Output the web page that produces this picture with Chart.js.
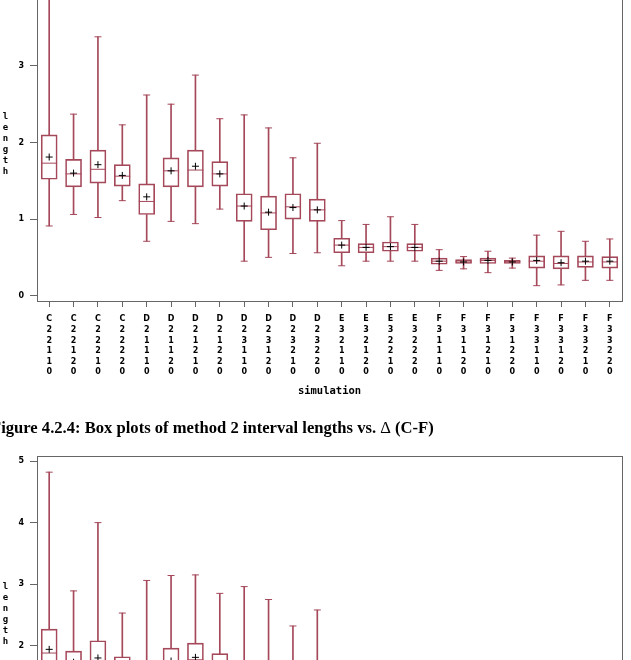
<!DOCTYPE html>
<html>
<head>
<meta charset="utf-8">
<script src="https://cdn.jsdelivr.net/npm/chart.js@4.4.0/dist/chart.umd.min.js"></script>
<style>
  html, body { margin: 0; padding: 0; width: 631px; height: 660px; overflow: hidden; background: #fff; }
  .wrap { position: absolute; left: 0; width: 631px; }
  #wrapTop { top: -23px; height: 443px; }
  #wrapBottom { top: 446px; height: 446px; }
  .ylab {
    position: absolute; left: 0; width: 11px; text-align: center;
    font: bold 9px "DejaVu Sans Mono", monospace; line-height: 11px;
  }
  #caption {
    position: absolute; left: -9px; top: 419px; white-space: nowrap;
    font: bold 16.6px "Liberation Serif", "Times New Roman", serif; line-height: 17px;
  }
  #caption .delta { font-weight: normal; }
</style>
</head>
<body>
<div class="wrap" id="wrapTop"><canvas id="chartTop"></canvas></div>
<div class="ylab" style="top:111px">l<br>e<br>n<br>g<br>t<br>h</div>
<div id="caption">Figure 4.2.4: Box plots of method 2 interval lengths vs. <span class="delta">&Delta;</span> (C-F)</div>
<div class="wrap" id="wrapBottom"><canvas id="chartBottom"></canvas></div>
<div class="ylab" style="top:581px">l<br>e<br>n<br>g<br>t<br>h</div>
<script>
// simulation settings along the x axis
const simulations = [
  "C22110", "C22120", "C22210", "C22220",
  "D21110", "D21120", "D21210", "D21220",
  "D23110", "D23120", "D23210", "D23220",
  "E32110", "E32120", "E32210", "E32220",
  "F31110", "F31120", "F31210", "F31220",
  "F33110", "F33120", "F33210", "F33220"
];

// upper figure: interval lengths (method 1)
const m1Min    = [0.91, 1.06, 1.02, 1.24, 0.71, 0.97, 0.94, 1.13, 0.45, 0.50, 0.55, 0.56, 0.39, 0.45, 0.45, 0.45, 0.33, 0.35, 0.30, 0.36, 0.13, 0.14, 0.20, 0.20];
const m1Q1     = [1.52, 1.42, 1.47, 1.43, 1.06, 1.42, 1.42, 1.43, 0.97, 0.86, 1.00, 0.97, 0.56, 0.56, 0.58, 0.58, 0.41, 0.42, 0.42, 0.42, 0.36, 0.35, 0.37, 0.36];
const m1Median = [1.73, 1.59, 1.65, 1.56, 1.23, 1.63, 1.64, 1.59, 1.17, 1.08, 1.16, 1.12, 0.66, 0.63, 0.64, 0.63, 0.45, 0.44, 0.46, 0.44, 0.45, 0.42, 0.44, 0.44];
const m1Mean   = [1.81, 1.60, 1.71, 1.57, 1.29, 1.63, 1.69, 1.59, 1.17, 1.09, 1.15, 1.12, 0.66, 0.63, 0.64, 0.63, 0.45, 0.44, 0.46, 0.44, 0.46, 0.43, 0.45, 0.45];
const m1Q3     = [2.10, 1.78, 1.90, 1.71, 1.46, 1.80, 1.90, 1.75, 1.33, 1.30, 1.33, 1.26, 0.75, 0.68, 0.70, 0.68, 0.49, 0.47, 0.49, 0.46, 0.52, 0.52, 0.52, 0.51];
const m1Max    = [3.97, 2.37, 3.38, 2.23, 2.62, 2.50, 2.88, 2.31, 2.36, 2.19, 1.80, 1.99, 0.98, 0.93, 1.03, 0.93, 0.60, 0.51, 0.58, 0.49, 0.79, 0.84, 0.71, 0.74];

// lower figure: interval lengths (method 2)
const m2Min    = [1.02, 1.10, 1.06, 1.28, 0.78, 1.02, 0.98, 1.18, 0.50, 0.55, 0.60, 0.60, 0.42, 0.48, 0.48, 0.48, 0.35, 0.37, 0.32, 0.38, 0.15, 0.16, 0.22, 0.22];
const m2Q1     = [1.62, 1.50, 1.52, 1.48, 1.12, 1.50, 1.50, 1.48, 1.02, 0.92, 1.05, 1.02, 0.60, 0.60, 0.62, 0.62, 0.44, 0.45, 0.45, 0.45, 0.38, 0.37, 0.39, 0.38];
const m2Median = [1.88, 1.68, 1.76, 1.62, 1.32, 1.72, 1.77, 1.66, 1.24, 1.14, 1.22, 1.18, 0.70, 0.67, 0.68, 0.67, 0.48, 0.47, 0.49, 0.47, 0.48, 0.45, 0.47, 0.47];
const m2Mean   = [1.94, 1.73, 1.80, 1.66, 1.38, 1.75, 1.81, 1.68, 1.26, 1.17, 1.22, 1.19, 0.71, 0.68, 0.69, 0.68, 0.48, 0.47, 0.49, 0.47, 0.49, 0.46, 0.48, 0.48];
const m2Q3     = [2.27, 1.91, 2.08, 1.82, 1.58, 1.96, 2.04, 1.87, 1.45, 1.40, 1.42, 1.36, 0.80, 0.73, 0.75, 0.73, 0.53, 0.50, 0.52, 0.49, 0.56, 0.56, 0.56, 0.55];
const m2Max    = [4.82, 2.89, 4.00, 2.53, 3.06, 3.14, 3.15, 2.85, 2.96, 2.75, 2.32, 2.58, 1.05, 1.00, 1.10, 1.00, 0.65, 0.55, 0.62, 0.53, 0.85, 0.90, 0.76, 0.80];

// y tick labels
const m1Ticks = [0, 1, 2, 3, 4];
const m2Ticks = [0, 1, 2, 3, 4, 5];

const boxColor = "#a5485a";
const axisColor = "#666666";
const tickFont = { family: "DejaVu Sans", size: 8, weight: "bold" };

// build one box plot chart out of floating bars and point markers
function makeBoxChart(canvasId, stats, yMax, yTicks) {
  const { min, q1, median, mean, q3, max } = stats;
  const ctx = document.getElementById(canvasId).getContext("2d");

  return new Chart(ctx, {
    type: "bar",
    data: {
      labels: simulations.map((s) => s.split("")),
      datasets: [
        {
          // mean marker
          type: "line",
          data: mean,
          showLine: false,
          pointStyle: "cross",
          pointRadius: 3.5,
          borderColor: "#000",
          borderWidth: 1,
          order: 0,
        },
        {
          // median line
          type: "line",
          data: median,
          showLine: false,
          pointStyle: "line",
          pointRadius: 8,
          borderColor: boxColor,
          borderWidth: 1,
          order: 1,
        },
        {
          // whisker caps
          type: "line",
          data: max,
          showLine: false,
          pointStyle: "line",
          pointRadius: 3.5,
          borderColor: boxColor,
          borderWidth: 1,
          order: 2,
        },
        {
          type: "line",
          data: min,
          showLine: false,
          pointStyle: "line",
          pointRadius: 3.5,
          borderColor: boxColor,
          borderWidth: 1,
          order: 2,
        },
        {
          // box from Q1 to Q3
          data: q1.map((v, i) => [v, q3[i]]),
          grouped: false,
          barThickness: 16,
          backgroundColor: "rgba(255,255,255,0)",
          borderColor: boxColor,
          borderWidth: 1,
          borderSkipped: false,
          order: 3,
        },
        {
          // whisker stems
          data: max.map((v, i) => [q3[i], v]),
          grouped: false,
          barThickness: 1,
          backgroundColor: boxColor,
          borderWidth: 0,
          order: 4,
        },
        {
          data: min.map((v, i) => [v, q1[i]]),
          grouped: false,
          barThickness: 1,
          backgroundColor: boxColor,
          borderWidth: 0,
          order: 4,
        },
      ],
    },
    options: {
      responsive: true,
      maintainAspectRatio: false,
      animation: false,
      events: [],
      layout: { padding: { top: 2, right: 4, left: 0, bottom: 0 } },
      plugins: { legend: { display: false }, tooltip: { enabled: false } },
      scales: {
        x: {
          type: "category",
          position: "bottom",
          grid: { offset: false, drawOnChartArea: false, tickLength: 6, color: axisColor },
          border: { display: true, color: axisColor, width: 1 },
          ticks: {
            color: "#000",
            font: { ...tickFont, lineHeight: 10.6 / 8 },
            padding: 7,
            maxRotation: 0,
            autoSkip: false,
          },
          title: {
            display: true,
            text: "simulation",
            color: "#000",
            font: { family: "DejaVu Sans Mono", size: 10.5, weight: "bold" },
            padding: { top: 0, bottom: 22.5 },
          },
          afterFit: (s) => { s.height = 119; },
        },
        y: {
          type: "linear",
          min: -0.07,
          max: yMax,
          grid: { drawOnChartArea: false, tickLength: 7, color: axisColor },
          border: { display: true, color: axisColor, width: 1 },
          ticks: { color: "#000", font: tickFont, padding: 6 },
          afterBuildTicks: (s) => { s.ticks = yTicks.map((v) => ({ value: v })); },
          afterFit: (s) => { s.width = 37; },
        },
        x2: {
          type: "linear",
          position: "top",
          min: 0,
          max: 1,
          grid: { display: false, drawTicks: false },
          ticks: { display: false },
          border: { display: true, color: axisColor, width: 1 },
          afterFit: (s) => { s.height = 0; },
        },
        y2: {
          type: "linear",
          position: "right",
          min: 0,
          max: 1,
          grid: { display: false, drawTicks: false },
          ticks: { display: false },
          border: { display: true, color: axisColor, width: 1 },
          afterFit: (s) => { s.width = 0; },
        },
      },
    },
  });
}

makeBoxChart("chartTop",
  { min: m1Min, q1: m1Q1, median: m1Median, mean: m1Mean, q3: m1Q3, max: m1Max },
  4.02, m1Ticks);

makeBoxChart("chartBottom",
  { min: m2Min, q1: m2Q1, median: m2Median, mean: m2Mean, q3: m2Q3, max: m2Max },
  5.07, m2Ticks);
</script>
</body>
</html>
